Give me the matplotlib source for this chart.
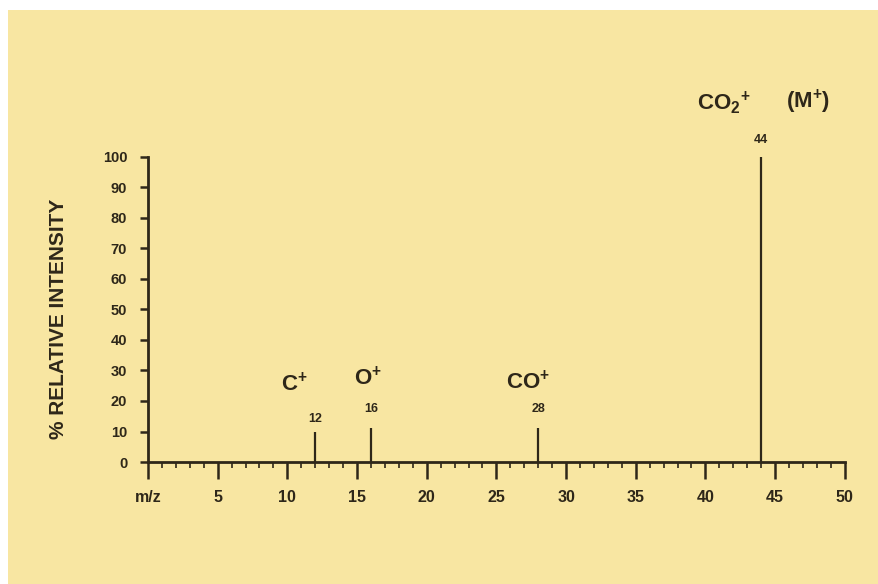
import matplotlib
matplotlib.use("Agg")
import matplotlib.pyplot as plt
from matplotlib.patches import Rectangle

# Mass spectrum of CO2
mz = [12, 16, 28, 44]
intensity = [10, 11, 11, 100]
peak_labels = ["12", "16", "28", "44"]
x_ticks = [0, 5, 10, 15, 20, 25, 30, 35, 40, 45, 50]
x_tick_labels = ["m/z", "5", "10", "15", "20", "25", "30", "35", "40", "45", "50"]
y_ticks = [0, 10, 20, 30, 40, 50, 60, 70, 80, 90, 100]

ink = "#2e2719"
bg = "#f8e6a2"

plt.rcParams["font.family"] = ["Liberation Sans", "DejaVu Sans"]
plt.rcParams["font.weight"] = "bold"
plt.rcParams["mathtext.fontset"] = "custom"
plt.rcParams["mathtext.rm"] = "Liberation Sans:bold"
plt.rcParams["mathtext.it"] = "Liberation Sans:bold"
plt.rcParams["mathtext.bf"] = "Liberation Sans:bold"
plt.rcParams["mathtext.default"] = "rm"

fig = plt.figure(figsize=(8.79, 5.84), dpi=100)
fig.patch.set_facecolor("white")
fig.patches.append(Rectangle((8 / 879, 0), 1, (584 - 10) / 584,
                             transform=fig.transFigure, facecolor=bg,
                             edgecolor="none", zorder=-10))

ax = fig.add_axes([0.1684, 0.2089, 0.7926, 0.5223])
ax.set_facecolor("none")

ax.vlines(mz, 0, intensity, color=ink, lw=1.6)

# peak m/z labels above each line
offsets = [5, 10, 10, 8]
for x, h, lab, off in zip(mz, intensity, peak_labels, offsets):
    ax.annotate(lab, (x, h), xytext=(0, off), textcoords="offset points",
                ha="center", va="bottom", fontsize=9, fontweight="bold",
                color=ink, annotation_clip=False)

# ion labels
ion_kw = dict(fontsize=16, fontweight="bold", ha="center", va="center", color=ink)
ax.text(10.5, 25.5, r"C$^{+}$", **ion_kw)
ax.text(15.8, 27.5, r"O$^{+}$", **ion_kw)
ax.text(27.3, 26, r"CO$^{+}$", **ion_kw)
ax.text(41.3, 118, r"CO$_2$$^{+}$", clip_on=False, **ion_kw)
ax.text(47.4, 118, r"(M$^{+}$)", clip_on=False, **ion_kw)

ax.set_xlim(0, 50)
ax.set_ylim(0, 100)
ax.spines["top"].set_visible(False)
ax.spines["right"].set_visible(False)
for s in ["left", "bottom"]:
    ax.spines[s].set_color(ink)
    ax.spines[s].set_linewidth(2)

ax.set_xticks(x_ticks)
ax.set_xticklabels(x_tick_labels)
ax.set_xticks(range(0, 51), minor=True)
ax.set_yticks(y_ticks)
ax.tick_params(axis="x", which="major", length=12, width=1.8, color=ink,
               labelsize=11.5, labelcolor=ink, pad=8)
ax.tick_params(axis="x", which="minor", length=4, width=1.2, color=ink)
ax.tick_params(axis="y", which="major", length=6, width=1.8, color=ink,
               labelsize=10.5, labelcolor=ink, pad=9)

ax.set_ylabel("% RELATIVE INTENSITY", fontsize=15, fontweight="bold", color=ink)
ax.yaxis.set_label_coords(-0.115, 0.47)

fig.savefig("out.png", dpi=100)
